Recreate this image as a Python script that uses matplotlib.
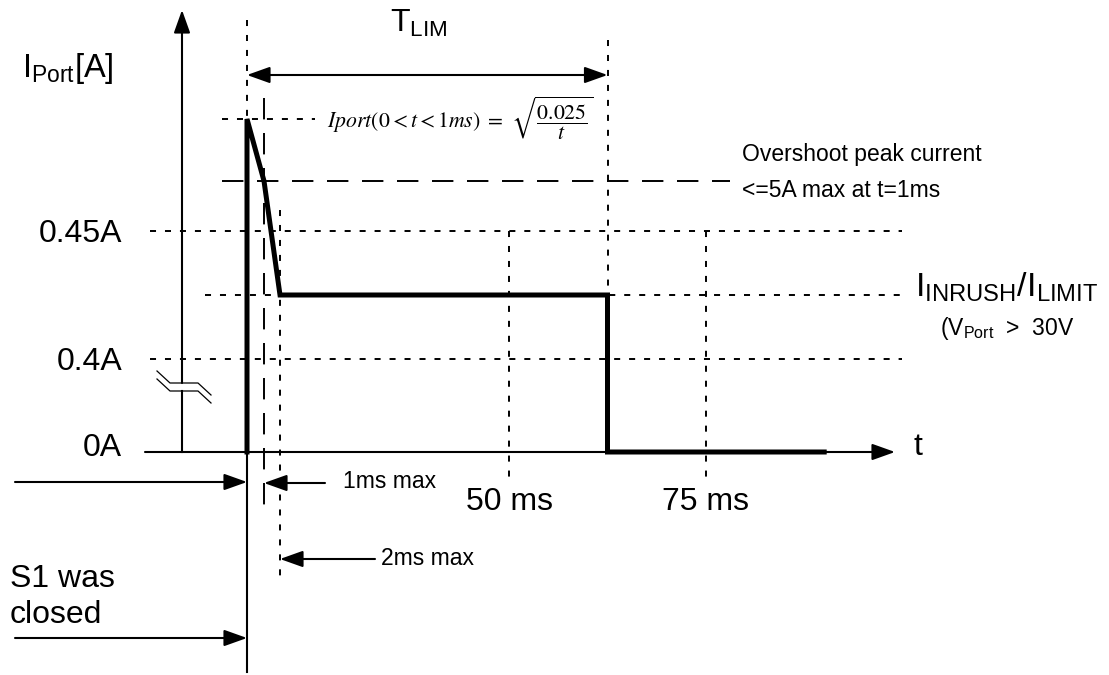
import numpy as np
import matplotlib
matplotlib.use('Agg')
import matplotlib.pyplot as plt
import matplotlib.transforms as mtransforms

plt.rcParams['font.family'] = 'Liberation Sans'
plt.rcParams['mathtext.fontset'] = 'custom'
plt.rcParams['mathtext.rm'] = 'Liberation Sans'
plt.rcParams['mathtext.it'] = 'Liberation Sans:italic'

# inrush waveform, time in ms, current in A
T_LIM = 62.5
wave_t = [0, 0, 1, 2, T_LIM, T_LIM, 90]
wave_i = [0, 8, 5, 0.425, 0.425, 0, 0]

i_levels = [0, 0.4, 0.45]
i_labels = ['0A', '0.4A', '0.45A']
t_ticks = [50, 75]
t_labels = ['50 ms', '75 ms']
i_inrush = 0.425
i_peak = 8
i_overshoot = 5

# the drawing is a sketch: time is stretched near t=0 and the current axis is broken,
# so both axes use a piecewise scale (value -> pixel)
T_KNOTS = [0, 1, 2, 50, 75]
T_PX = [247, 264, 280, 509, 706]
I_KNOTS = [0, 0.4, 0.425, 0.45, 5, 8]
I_PX = [0, 93, 157, 221, 271, 333]


def pw(v, xs, ys):
    v = np.asarray(v, dtype=float)
    out = np.interp(v, xs, ys)
    out = np.where(v < xs[0], ys[0] + (v - xs[0]) * (ys[1] - ys[0]) / (xs[1] - xs[0]), out)
    out = np.where(v > xs[-1], ys[-1] + (v - xs[-1]) * (ys[-1] - ys[-2]) / (xs[-1] - xs[-2]), out)
    return out


W, H = 1109, 675
X0, X1, Y0, YTOP = 182, 895, 452, 10
BIG = 23

fig = plt.figure(figsize=(W / 100, H / 100), dpi=100)
ax = fig.add_axes([X0 / W, 1 - Y0 / H, (X1 - X0) / W, (Y0 - YTOP) / H])
ax.set_xscale('function', functions=(lambda v: pw(v, T_KNOTS, T_PX), lambda p: pw(p, T_PX, T_KNOTS)))
ax.set_yscale('function', functions=(lambda v: pw(v, I_KNOTS, I_PX), lambda p: pw(p, I_PX, I_KNOTS)))
ax.set_xlim(float(pw(X0, T_PX, T_KNOTS)), float(pw(X1, T_PX, T_KNOTS)))
ax.set_ylim(0, float(pw(Y0 - YTOP, I_PX, I_KNOTS)))
ax.patch.set_visible(False)
for s in ax.spines.values():
    s.set_visible(False)

ax.set_xticks(t_ticks, t_labels)
ax.set_yticks(i_levels, i_labels)
ax.tick_params(length=0, labelsize=BIG)
ax.tick_params(axis='x', pad=25.5)
ax.tick_params(axis='y', pad=43)
# the 0A label sits a little above the axis in the original
for lab in ax.get_yticklabels():
    if lab.get_text() == '0A':
        lab.set_transform(lab.get_transform() + mtransforms.ScaledTranslation(0, 0.07, fig.dpi_scale_trans))

# pixel transform (y downwards) and mixed ones
px = mtransforms.Affine2D().scale(1 / W, -1 / H).translate(0, 1) + fig.transFigure
px_data = mtransforms.blended_transform_factory(px, ax.transData)
data_px = mtransforms.blended_transform_factory(ax.transData, px)

dot = dict(color='black', lw=1.4, ls=(0, (3.1, 4.6)), clip_on=False)
dash = dict(color='black', lw=1.4, ls=(0, (11, 7)), clip_on=False)

# horizontal guides
ax.plot([150, 902], [0.45, 0.45], transform=px_data, **dot)
ax.plot([205, 902], [i_inrush, i_inrush], transform=px_data, **dot)
ax.plot([150, 902], [0.4, 0.4], transform=px_data, **dot)
ax.plot([222, 315], [i_peak, i_peak], transform=px_data, **dot)
ax.plot([222, 730], [i_overshoot, i_overshoot], transform=px_data, **dash)

# vertical guides
ax.plot([0, 0], [20, 119], transform=data_px, **dot)
ax.plot([1, 1], [98, 507], transform=data_px, **dash)
ax.plot([2, 2], [210, 580], transform=data_px, **dot)
ax.plot([T_LIM, T_LIM], [40, 295], transform=data_px, **dot)
ax.plot([50, 50], [231, 485], transform=data_px, **dot)
ax.plot([75, 75], [231, 477], transform=data_px, **dot)
ax.plot([0, 0], [452, 672], transform=data_px, color='black', lw=1.5, clip_on=False)

arrow = dict(arrowstyle='-|>,head_length=0.7,head_width=0.25', mutation_scale=20,
             lw=1.5, color='black', shrinkA=0, shrinkB=0)

# axes with arrows and the break mark
ax.annotate('', xy=(895, 0), xytext=(145, 0), xycoords=px_data, arrowprops=arrow)
ax.plot([X0, X0], [452, 391], transform=px, color='black', lw=1.5, clip_on=False)
ax.annotate('', xy=(X0, YTOP), xytext=(X0, 383), xycoords=px, arrowprops=arrow)
for y in (383, 391):
    ax.plot([157, 170, 198, 211], [y - 12, y, y, y + 12], transform=px,
            color='black', lw=0.9, clip_on=False)

# waveform
ax.plot(wave_t, wave_i, color='black', lw=3.6, solid_joinstyle='miter', clip_on=False)

# T_LIM span
ax.annotate('', xy=(0, 75), xytext=(T_LIM, 75), xycoords=data_px,
            arrowprops=dict(arrow, arrowstyle='<|-|>,head_length=0.7,head_width=0.25'))

# timing arrows below the axis
ax.annotate('', xy=(0, 482), xytext=(15, 482), xycoords=data_px, textcoords=px, arrowprops=arrow)
ax.annotate('', xy=(1, 483), xytext=(325, 483), xycoords=data_px, textcoords=px, arrowprops=arrow)
ax.annotate('', xy=(2, 559), xytext=(375, 559), xycoords=data_px, textcoords=px, arrowprops=arrow)
ax.annotate('', xy=(0, 638), xytext=(15, 638), xycoords=data_px, textcoords=px, arrowprops=arrow)

# text
ax.text(22, 77, r'$\mathregular{I_{Port}[A]}$', transform=px, fontsize=23.5, va='baseline')
ax.text(390, 32, r'$\mathregular{T_{LIM}}$', transform=px, fontsize=BIG, va='baseline')
ax.text(327, 128, r'$Iport(0 < t < 1ms)\ =\ \sqrt{\dfrac{0.025}{t}}$', transform=px,
        fontsize=15.7, va='baseline', math_fontfamily='stix')
ax.text(742, 161, 'Overshoot peak current', transform=px, fontsize=16.5, va='baseline')
ax.text(742, 197, '<=5A max at t=1ms', transform=px, fontsize=16.5, va='baseline')
ax.text(915, 297, r'$\mathregular{I_{INRUSH}/I_{LIMIT}}$', transform=px, fontsize=24.5, va='baseline')
ax.text(940, 335, r'($\mathregular{V_{Port}}$  >  30V', transform=px, fontsize=16.5, va='baseline')
ax.text(913, 455, 't', transform=px, fontsize=BIG, va='baseline')
ax.text(343, 488, '1ms max', transform=px, fontsize=16.5, va='baseline')
ax.text(381, 565, '2ms max', transform=px, fontsize=16.5, va='baseline')
ax.text(10, 587, 'S1 was', transform=px, fontsize=BIG, va='baseline')
ax.text(10, 623, 'closed', transform=px, fontsize=BIG, va='baseline')

fig.savefig('out.png', dpi=100)
